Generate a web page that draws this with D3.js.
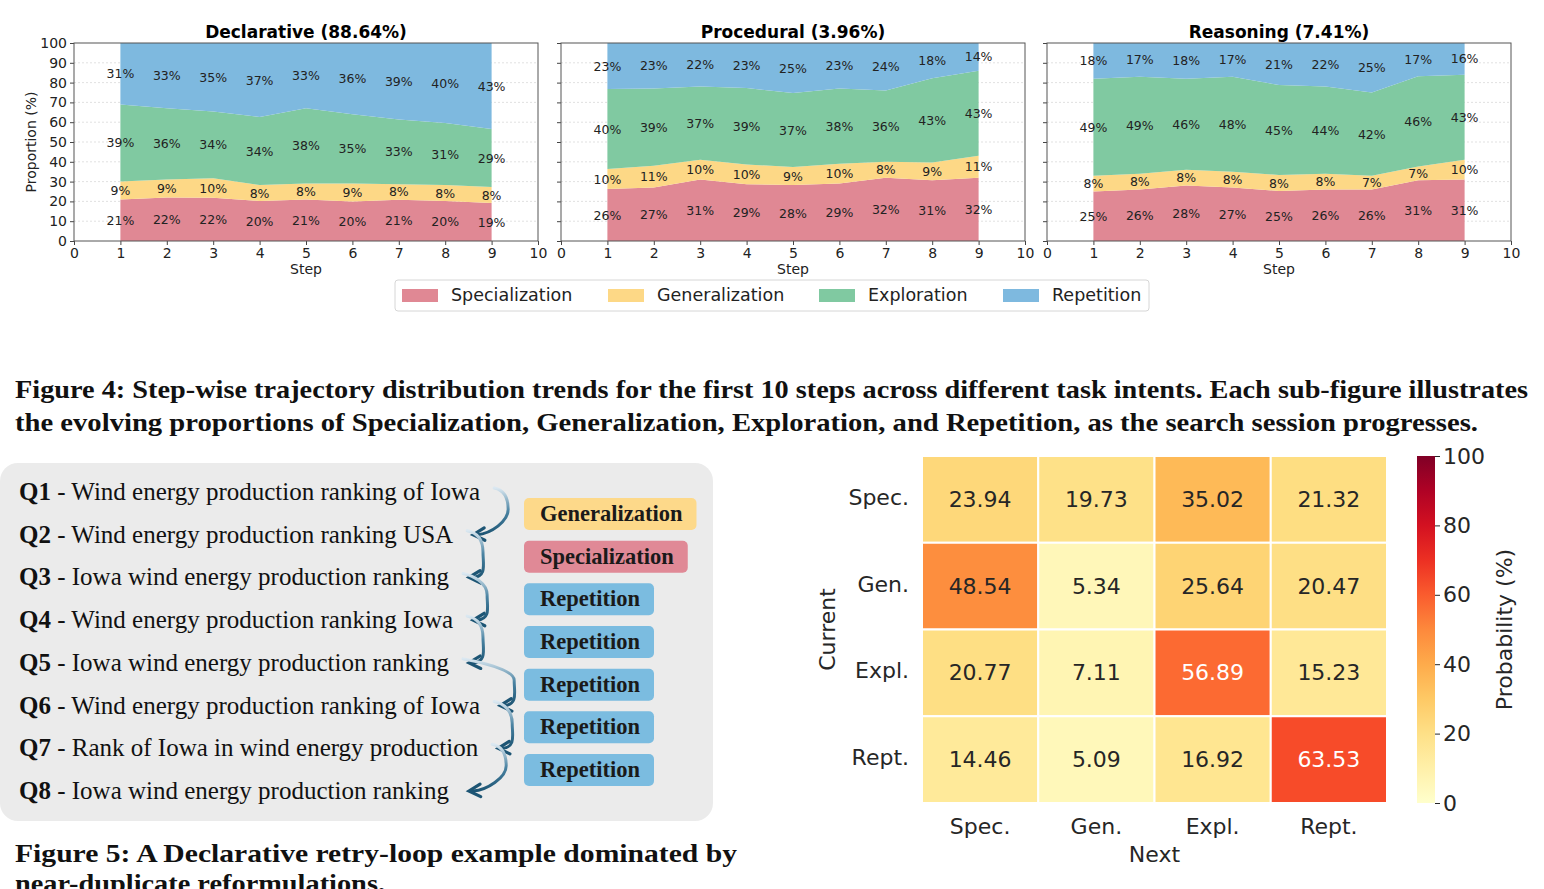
<!DOCTYPE html>
<html>
<head>
<meta charset="utf-8">
<script src="https://cdn.jsdelivr.net/npm/d3@7"></script>
<style>
  body { margin: 0; background: #fff; }
  svg { display: block; }
  .sans { font-family: "DejaVu Sans", sans-serif; }
  .serif { font-family: "Liberation Serif", "DejaVu Serif", serif; }
</style>
</head>
<body>
<script>
var W = 1544, H = 889;

// ---- Figure 4 data ----
var categories = ['Specialization', 'Generalization', 'Exploration', 'Repetition'];
var catColors = ['#e08894', '#fdd886', '#80c9a1', '#7eb9df'];
var steps = [1, 2, 3, 4, 5, 6, 7, 8, 9];

var declSpec = [21, 22, 22, 20, 21, 20, 21, 20, 19];
var declGen  = [9, 9, 10, 8, 8, 9, 8, 8, 8];
var declExpl = [39, 36, 34, 34, 38, 35, 33, 31, 29];
var declRep  = [31, 33, 35, 37, 33, 36, 39, 40, 43];

var procSpec = [26, 27, 31, 29, 28, 29, 32, 31, 32];
var procGen  = [10, 11, 10, 10, 9, 10, 8, 9, 11];
var procExpl = [40, 39, 37, 39, 37, 38, 36, 43, 43];
var procRep  = [23, 23, 22, 23, 25, 23, 24, 18, 14];

var reasSpec = [25, 26, 28, 27, 25, 26, 26, 31, 31];
var reasGen  = [8, 8, 8, 8, 8, 8, 7, 7, 10];
var reasExpl = [49, 49, 46, 48, 45, 44, 42, 46, 43];
var reasRep  = [18, 17, 18, 17, 21, 22, 25, 17, 16];

var panelTitles = ['Declarative (88.64%)', 'Procedural (3.96%)', 'Reasoning (7.41%)'];
var yTicks = [0, 10, 20, 30, 40, 50, 60, 70, 80, 90, 100];
var xTicks = [0, 1, 2, 3, 4, 5, 6, 7, 8, 9, 10];

// ---- Figure 5 data ----
var queries = [
  'Wind energy production ranking of Iowa',
  'Wind energy production ranking USA',
  'Iowa wind energy production ranking',
  'Wind energy production ranking Iowa',
  'Iowa wind energy production ranking',
  'Wind energy production ranking of Iowa',
  'Rank of Iowa in wind energy production',
  'Iowa wind energy production ranking'
];
var transitions = ['Generalization', 'Specialization', 'Repetition', 'Repetition', 'Repetition', 'Repetition', 'Repetition'];

// ---- heatmap data ----
var hmLabels = ['Spec.', 'Gen.', 'Expl.', 'Rept.'];
var hmValues = [
  [23.94, 19.73, 35.02, 21.32],
  [48.54, 5.34, 25.64, 20.47],
  [20.77, 7.11, 56.89, 15.23],
  [14.46, 5.09, 16.92, 63.53]
];
var cbTicks = [0, 20, 40, 60, 80, 100];

var svg = d3.select('body').append('svg')
  .attr('width', W).attr('height', H);
var defs = svg.append('defs');

// ================= stacked area panels =================
var series = [
  [declSpec, declGen, declExpl, declRep],
  [procSpec, procGen, procExpl, procRep],
  [reasSpec, reasGen, reasExpl, reasRep]
];
var panelX = [74, 561, 1047];
var panelW = 464;
var top0 = 43, bot0 = 241;

var y = d3.scaleLinear().domain([0, 1]).range([bot0, top0]);

series.forEach(function(ser, p) {
  var g = svg.append('g').attr('class', 'sans');
  var x = d3.scaleLinear().domain([0, 10]).range([panelX[p], panelX[p] + panelW]);

  var rows = steps.map(function(s, i) {
    var r = { step: s };
    categories.forEach(function(c, k) { r[c] = ser[k][i]; });
    return r;
  });
  var stacked = d3.stack().keys(categories).offset(d3.stackOffsetExpand)(rows);

  // grid
  g.append('g').selectAll('line').data(yTicks.slice(1, -1)).join('line')
    .attr('x1', x(0)).attr('x2', x(10))
    .attr('y1', function(d) { return y(d / 100); })
    .attr('y2', function(d) { return y(d / 100); })
    .attr('stroke', '#d9d9d9').attr('stroke-width', 0.8)
    .attr('stroke-dasharray', '2,2');

  var area = d3.area()
    .x(function(d) { return x(d.data.step); })
    .y0(function(d) { return y(d[0]); })
    .y1(function(d) { return y(d[1]); });

  g.append('g').selectAll('path').data(stacked).join('path')
    .attr('d', area)
    .attr('fill', function(d, i) { return catColors[i]; });

  // labels
  stacked.forEach(function(layer, k) {
    g.append('g').selectAll('text').data(layer).join('text')
      .attr('x', function(d) { return x(d.data.step); })
      .attr('y', function(d) { return y((d[0] + d[1]) / 2); })
      .attr('text-anchor', 'middle')
      .attr('dominant-baseline', 'central')
      .attr('font-size', 12.5)
      .attr('fill', '#222')
      .text(function(d) { return ser[k][d.data.step - 1] + '%'; });
  });

  // axes
  var yAxis = d3.axisLeft(y)
    .tickValues(yTicks.map(function(d) { return d / 100; }))
    .tickSize(4)
    .tickFormat(p === 0 ? function(d) { return Math.round(d * 100); } : function() { return ''; });
  var ya = g.append('g').attr('transform', 'translate(' + x(0) + ',0)').call(yAxis);
  ya.select('.domain').remove();
  ya.selectAll('text').attr('font-size', 14).attr('fill', '#222').attr('font-family', 'DejaVu Sans');
  ya.selectAll('line').attr('stroke', '#444');

  var xAxis = d3.axisBottom(x).tickValues(xTicks).tickSize(4).tickPadding(3);
  var xa = g.append('g').attr('transform', 'translate(0,' + bot0 + ')').call(xAxis);
  xa.select('.domain').remove();
  xa.selectAll('text').attr('font-size', 14).attr('fill', '#222').attr('font-family', 'DejaVu Sans');
  xa.selectAll('line').attr('stroke', '#444');

  g.append('rect')
    .attr('x', x(0)).attr('y', top0)
    .attr('width', panelW).attr('height', bot0 - top0)
    .attr('fill', 'none').attr('stroke', '#555').attr('stroke-width', 1);

  g.append('text')
    .attr('x', x(5)).attr('y', 38)
    .attr('text-anchor', 'middle')
    .attr('font-size', 17).attr('font-weight', 'bold')
    .text(panelTitles[p]);

  g.append('text')
    .attr('x', x(5)).attr('y', 274)
    .attr('text-anchor', 'middle')
    .attr('font-size', 14).attr('fill', '#222')
    .text('Step');

  if (p === 0) {
    g.append('text')
      .attr('transform', 'translate(36,' + ((top0 + bot0) / 2) + ') rotate(-90)')
      .attr('text-anchor', 'middle')
      .attr('font-size', 14).attr('fill', '#222')
      .text('Proportion (%)');
  }
});

// legend
var leg = svg.append('g').attr('class', 'sans');
leg.append('rect')
  .attr('x', 395).attr('y', 280).attr('width', 754).attr('height', 31)
  .attr('rx', 3).attr('fill', '#fff').attr('stroke', '#d6d6d6');
var legX = [402, 608, 819, 1003];
categories.forEach(function(c, i) {
  leg.append('rect')
    .attr('x', legX[i]).attr('y', 289).attr('width', 36).attr('height', 13)
    .attr('fill', catColors[i]);
  leg.append('text')
    .attr('x', legX[i] + 49).attr('y', 301)
    .attr('font-size', 17.5).attr('fill', '#222')
    .text(c);
});

// ================= captions =================
var cap = svg.append('g').attr('class', 'serif').attr('font-weight', 'bold').attr('fill', '#111');
cap.append('text').attr('x', 15).attr('y', 398).attr('font-size', 25)
  .attr('textLength', 1513).attr('lengthAdjust', 'spacingAndGlyphs')
  .text('Figure 4: Step-wise trajectory distribution trends for the first 10 steps across different task intents. Each sub-figure illustrates');
cap.append('text').attr('x', 15).attr('y', 431).attr('font-size', 25)
  .attr('textLength', 1463).attr('lengthAdjust', 'spacingAndGlyphs')
  .text('the evolving proportions of Specialization, Generalization, Exploration, and Repetition, as the search session progresses.');
cap.append('text').attr('x', 15).attr('y', 862).attr('font-size', 25)
  .attr('textLength', 722).attr('lengthAdjust', 'spacingAndGlyphs')
  .text('Figure 5: A Declarative retry-loop example dominated by');
cap.append('text').attr('x', 15).attr('y', 892).attr('font-size', 25)
  .attr('textLength', 370).attr('lengthAdjust', 'spacingAndGlyphs')
  .text('near-duplicate reformulations.');

// ================= Figure 5 panel =================
var f5 = svg.append('g').attr('class', 'serif');
f5.append('rect')
  .attr('x', 0).attr('y', 463).attr('width', 713).attr('height', 358)
  .attr('rx', 18).attr('fill', '#ebebeb');

var qY = d3.scaleLinear().domain([0, queries.length - 1]).range([500, 799]);
var qEnds = [];
queries.forEach(function(q, i) {
  var t = f5.append('text')
    .attr('x', 19).attr('y', qY(i))
    .attr('font-size', 25).attr('fill', '#111');
  t.append('tspan').attr('font-weight', 'bold').text('Q' + (i + 1));
  t.append('tspan').text(' - ' + q);
  qEnds.push(19 + t.node().getComputedTextLength());
});

var badgeColor = { Generalization: '#fdd98a', Specialization: '#e08996', Repetition: '#7bbce0' };
var badgeY = d3.scaleLinear().domain([0, transitions.length - 1]).range([498, 754]);
transitions.forEach(function(tr, i) {
  var bg = f5.append('g');
  var txt = bg.append('text')
    .attr('x', 540).attr('y', badgeY(i) + 23)
    .attr('font-size', 22.5).attr('font-weight', 'bold').attr('fill', '#1a1a1a')
    .text(tr);
  var w = txt.node().getComputedTextLength();
  bg.insert('rect', 'text')
    .attr('x', 524).attr('y', badgeY(i))
    .attr('width', w + 30).attr('height', 32).attr('rx', 5)
    .attr('fill', badgeColor[tr]);
});

// curved arrows: bulge right, then sweep left into the next query
var arrowColor = '#1d5574';
for (var i = 0; i < queries.length - 1; i++) {
  var sx = qEnds[i] + 14, sy = qY(i) - 12;
  var ex = qEnds[i + 1] + 20, ey = qY(i + 1) - 8;
  var mx = Math.max(sx, ex) + 14, my = (sy + ey) / 2 - 2;
  var gid = 'ag' + i;
  var lg = defs.append('linearGradient').attr('id', gid)
    .attr('gradientUnits', 'userSpaceOnUse')
    .attr('x1', 0).attr('y1', sy).attr('x2', 0).attr('y2', ey);
  lg.append('stop').attr('offset', '0%').attr('stop-color', '#dbe8f1');
  lg.append('stop').attr('offset', '50%').attr('stop-color', '#4a83a2');
  lg.append('stop').attr('offset', '100%').attr('stop-color', arrowColor);

  var path = d3.path();
  path.moveTo(sx, sy);
  path.bezierCurveTo(sx + 10, sy + 2, mx, my - 12, mx, my);
  path.bezierCurveTo(mx, my + 12, ex + 18, ey - 1, ex + 4, ey);
  f5.append('path')
    .attr('d', path.toString())
    .attr('fill', 'none')
    .attr('stroke', 'url(#' + gid + ')')
    .attr('stroke-width', 3)
    .attr('stroke-linecap', 'round');

  // arrowhead pointing left, tip at (ex, ey)
  var ang = Math.atan2(ey - (ey - 1), ex - (ex + 18));
  var head = d3.path();
  var L = 13, spread = 0.5;
  head.moveTo(ex + L * Math.cos(ang + Math.PI - spread), ey + L * Math.sin(ang + Math.PI - spread));
  head.lineTo(ex, ey);
  head.lineTo(ex + L * Math.cos(ang + Math.PI + spread), ey + L * Math.sin(ang + Math.PI + spread));
  f5.append('path')
    .attr('d', head.toString())
    .attr('fill', 'none')
    .attr('stroke', arrowColor)
    .attr('stroke-width', 3.2)
    .attr('stroke-linecap', 'round')
    .attr('stroke-linejoin', 'miter');
}

// ================= heatmap =================
var hm = svg.append('g').attr('class', 'sans');
var hx = d3.scaleBand().domain(d3.range(4)).range([922, 1387]);
var hy = d3.scaleBand().domain(d3.range(4)).range([456, 803]);
var color = d3.scaleSequential(d3.interpolateYlOrRd).domain([0, 100]);

var cells = [];
hmValues.forEach(function(row, r) {
  row.forEach(function(v, c) { cells.push({ r: r, c: c, v: v }); });
});

hm.selectAll('rect.cell').data(cells).join('rect')
  .attr('class', 'cell')
  .attr('x', function(d) { return hx(d.c); })
  .attr('y', function(d) { return hy(d.r); })
  .attr('width', hx.bandwidth()).attr('height', hy.bandwidth())
  .attr('fill', function(d) { return color(d.v); })
  .attr('stroke', '#fff').attr('stroke-width', 2);

hm.selectAll('text.val').data(cells).join('text')
  .attr('class', 'val')
  .attr('x', function(d) { return hx(d.c) + hx.bandwidth() / 2; })
  .attr('y', function(d) { return hy(d.r) + hy.bandwidth() / 2; })
  .attr('text-anchor', 'middle').attr('dominant-baseline', 'central')
  .attr('font-size', 22)
  .attr('fill', function(d) { return d.v > 50 ? '#fff' : '#262626'; })
  .text(function(d) { return d.v.toFixed(2); });

hm.selectAll('text.rl').data(hmLabels).join('text')
  .attr('class', 'rl')
  .attr('x', 909)
  .attr('y', function(d, i) { return hy(i) + hy.bandwidth() / 2 - 2; })
  .attr('text-anchor', 'end').attr('dominant-baseline', 'central')
  .attr('font-size', 22).attr('fill', '#262626')
  .text(function(d) { return d; });

hm.selectAll('text.cl').data(hmLabels).join('text')
  .attr('class', 'cl')
  .attr('x', function(d, i) { return hx(i) + hx.bandwidth() / 2; })
  .attr('y', 834)
  .attr('text-anchor', 'middle')
  .attr('font-size', 22).attr('fill', '#262626')
  .text(function(d) { return d; });

hm.append('text').attr('x', (922 + 1387) / 2).attr('y', 862)
  .attr('text-anchor', 'middle').attr('font-size', 22).attr('fill', '#262626')
  .text('Next');
hm.append('text')
  .attr('transform', 'translate(835,' + ((456 + 803) / 2) + ') rotate(-90)')
  .attr('text-anchor', 'middle').attr('font-size', 22).attr('fill', '#262626')
  .text('Current');

// colorbar
var cbX = 1417, cbW = 18;
var cbY = d3.scaleLinear().domain([0, 100]).range([803, 456]);
var cg = defs.append('linearGradient').attr('id', 'cbgrad')
  .attr('x1', 0).attr('y1', 1).attr('x2', 0).attr('y2', 0);
d3.range(0, 1.0001, 0.1).forEach(function(t) {
  cg.append('stop').attr('offset', (t * 100) + '%').attr('stop-color', color(t * 100));
});
hm.append('rect').attr('x', cbX).attr('y', 456).attr('width', cbW).attr('height', 347)
  .attr('fill', 'url(#cbgrad)');
var cba = hm.append('g').attr('transform', 'translate(' + (cbX + cbW) + ',0)')
  .call(d3.axisRight(cbY).tickValues(cbTicks).tickSize(5).tickPadding(3));
cba.select('.domain').remove();
cba.selectAll('text').attr('font-size', 22).attr('fill', '#262626').attr('font-family', 'DejaVu Sans');
cba.selectAll('line').attr('stroke', '#262626');
hm.append('text')
  .attr('transform', 'translate(1512,' + ((456 + 803) / 2) + ') rotate(-90)')
  .attr('text-anchor', 'middle').attr('font-size', 22).attr('fill', '#262626')
  .text('Probability (%)');
</script>
</body>
</html>
